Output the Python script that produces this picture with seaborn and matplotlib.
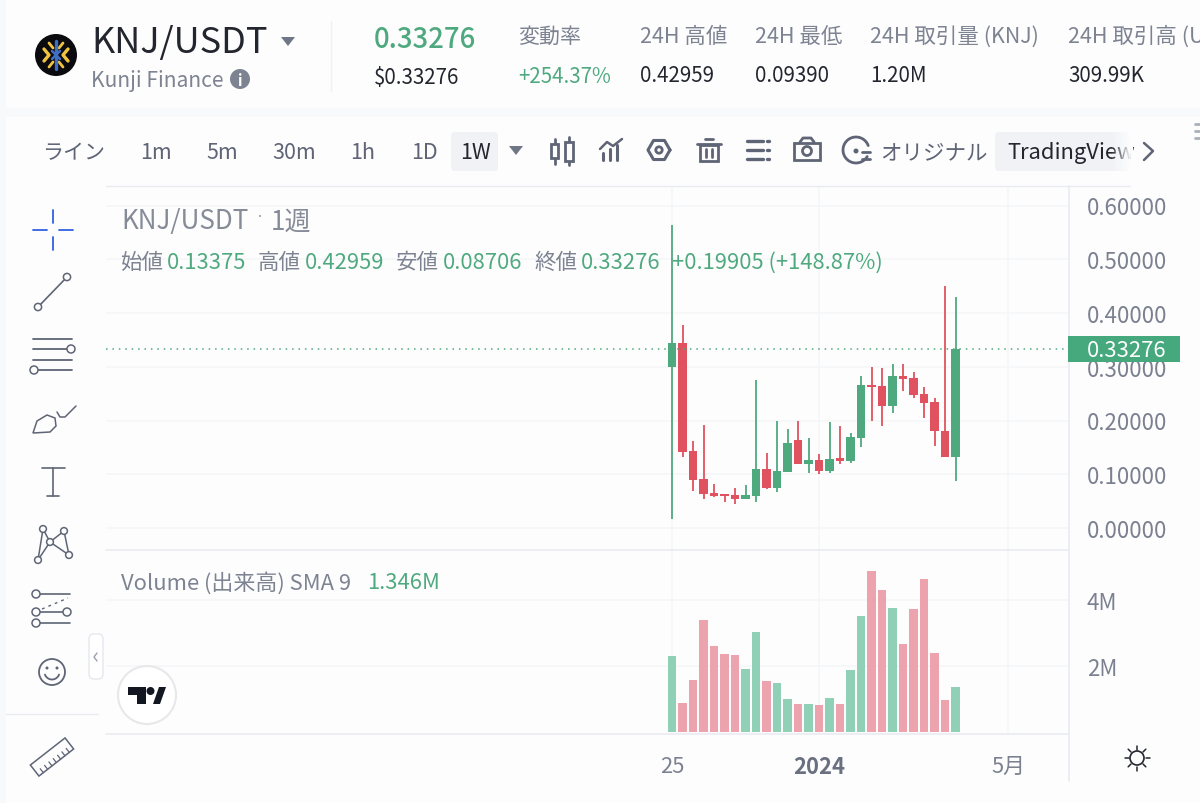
import matplotlib
matplotlib.use("Agg")
import matplotlib.pyplot as plt
from matplotlib.patches import Circle, Rectangle, FancyBboxPatch, Polygon
import numpy as np
import pandas as pd
import seaborn as sns

week = list(range(28))
opens = [.299,.344,.143,.092,.065,.063,.061,.054,.060,.109,.075,.104,.164,.119,.127,.106,.130,.124,.168,.266,.264,.227,.283,.279,.249,.234,.180,.132]
closes = [.344,.142,.090,.063,.059,.059,.054,.061,.109,.074,.106,.158,.119,.127,.106,.128,.124,.169,.266,.262,.227,.283,.277,.248,.233,.180,.132,.333]
highs = [.564,.378,.162,.192,.082,.063,.074,.080,.275,.140,.200,.185,.200,.167,.138,.198,.190,.177,.282,.300,.298,.305,.305,.291,.262,.242,.450,.429]
lows = [.017,.133,.068,.054,.057,.049,.045,.054,.049,.073,.067,.104,.119,.102,.100,.103,.119,.121,.151,.200,.189,.214,.255,.241,.205,.153,.132,.088]
volumes = [2.30,.87,1.59,3.39,2.60,2.35,2.33,1.90,3.02,1.54,1.47,1.00,.84,.84,.82,1.03,.84,1.88,3.51,4.88,4.30,3.77,2.66,3.72,4.65,2.38,.98,1.35]
volume_up = [True,False,False,False,False,False,False,True,True,False,True,True,False,True,False,True,False,True,True,False,False,True,False,False,False,False,False,True]
price_ticks = [0,.1,.2,.3,.4,.5,.6]
volume_ticks = [2,4]
last_price = 0.33276
x_tick_pos = [0, 14, 32]
x_tick_labels = ["25", "2024", "5月"]

GREEN, RED = "#4fa97f", "#e0525f"
VGREEN, VRED = "#8fd0b6", "#eda3ad"
GRAY, TICK, DARK, LINE, GRID = "#7d8391", "#7b8190", "#23262e", "#e9ebf2", "#f5f6f9"
ICON = "#5f6576"
BG = "#fdfdfe"

sns.set_theme(style="white")
plt.rcParams["font.family"] = ["Noto Sans CJK JP", "DejaVu Sans"]

W, H = 1200, 804
fig = plt.figure(figsize=(12, 8.04), dpi=100, facecolor=BG)

def pane(x0, y0, x1, y1):
    return fig.add_axes([x0 / W, 1 - y1 / H, (x1 - x0) / W, (y1 - y0) / H], facecolor=BG)

xlim = ((106 - 672) / 10.5, (1068.5 - 672) / 10.5)
ax = pane(106, 187, 1068.5, 551)
av = pane(106, 551, 1068.5, 734)

# candles
up = np.array(closes) >= np.array(opens)
colors = [GREEN if u else RED for u in up]
ax.vlines(week, lows, highs, colors=colors, linewidth=1.3, zorder=3)
bottoms = np.minimum(opens, closes)
ax.bar(week, np.abs(np.array(closes) - np.array(opens)), bottom=bottoms, width=0.8, color=colors, zorder=4, linewidth=0)
ax.axhline(last_price, color=GREEN, ls=(0, (1, 3.2)), lw=1.1, zorder=5)
ax.set_xlim(xlim)
ax.set_ylim((529 - 551) / 537.5, (529 - 187) / 537.5)
ax.set_yticks(price_ticks)
ax.set_yticklabels([f"{t:.5f}" for t in price_ticks])

# volume
df = pd.DataFrame({"week": week, "volume": volumes, "dir": ["up" if u else "down" for u in volume_up]})
sns.barplot(data=df, x="week", y="volume", hue="dir", dodge=False, native_scale=True, width=0.8, saturation=1,
            palette={"up": VGREEN, "down": VRED}, legend=False, ax=av, linewidth=0, zorder=3)
av.set_xlim(xlim)
av.set_ylim(-0.03, (733 - 551) / 33)
av.set_yticks(volume_ticks)
av.set_yticklabels([f"{t}M" for t in volume_ticks])
av.set_xlabel(""); av.set_ylabel("")
av.set_xticks(x_tick_pos)
av.set_xticklabels(x_tick_labels)
av.get_xticklabels()[1].set_fontweight("bold")
ax.set_xticks(x_tick_pos)

for a in (ax, av):
    a.grid(True, color=GRID, lw=1.2, zorder=0)
    a.set_axisbelow(True)
    a.yaxis.tick_right()
    a.tick_params(axis="y", length=0, pad=13.2, labelsize=16, labelcolor=TICK)
    for s in a.spines.values():
        s.set_visible(False)
ax.tick_params(axis="x", length=0, labelbottom=False)
av.tick_params(axis="x", length=0, pad=15.5, labelsize=15.8, labelcolor=TICK)
av.get_xticklabels()[1].set_color("#6a7080")

# overlay in pixel coordinates for the application chrome
o = fig.add_axes([0, 0, 1, 1], facecolor="none", zorder=20)
o.set_xlim(0, W); o.set_ylim(H, 0); o.axis("off")

def txt(x, y, s, px=20, color=GRAY, ha="left", **kw):
    return o.text(x, y, s, fontsize=px * 0.72, color=color, ha=ha, va="center", **kw)

def ln(xs, ys, c=ICON, lw=1.3, **kw):
    o.plot(xs, ys, color=c, lw=lw, solid_capstyle="round", **kw)

def ring(x, y, r=4, c=ICON, lw=1.1):
    o.add_patch(Circle((x, y), r, fc=BG, ec=c, lw=lw, zorder=6))

def rect(x0, y0, x1, y1, c):
    o.add_patch(Rectangle((x0, y0), x1 - x0, y1 - y0, fc=c, ec="none", zorder=0))

# chrome bands and borders
rect(0, 109, 1200, 118, "#f8f9fb")
rect(0, 0, 6, 804, "#f8f9fb")
ln([106, 1130], [187, 187], LINE, 1)
ln([106, 1069], [551, 551], LINE, 1.2)
ln([106, 1069], [734.5, 734.5], LINE, 1.2)
ln([1069, 1069], [187, 782], LINE, 1.2)
ln([331, 331], [22, 92], "#f0f1f5", 1)
ln([6, 98], [715, 715], LINE, 1)

# header
o.add_patch(Circle((56, 56), 21, fc="#0b0b0f", ec="none", zorder=3))
for sgn in (-1, 1):
    o.plot([56 + sgn * 12, 56 + sgn * 7, 56 + sgn * 12], [50, 56, 62], color="#efc23f", lw=2.4, zorder=4)
    o.plot([56 + sgn * 7, 56 + sgn * 3], [44, 49], color="#efc23f", lw=2, zorder=4)
    o.plot([56 + sgn * 7, 56 + sgn * 3], [68, 63], color="#efc23f", lw=2, zorder=4)
    o.plot([56, 56 + sgn * 4], [56, 52], color="#3f6fc4", lw=1.8, zorder=4)
    o.plot([56, 56 + sgn * 4], [56, 60], color="#3f6fc4", lw=1.8, zorder=4)
o.plot([56, 56], [42, 70], color="#3f6fc4", lw=2.4, zorder=4)
txt(91, 43, "KNJ/USDT", 36, DARK)
o.add_patch(Polygon([[281, 38], [295, 38], [288, 47]], fc="#6f7686", ec="none"))
txt(91, 81, "Kunji Finance", 21, GRAY)
o.add_patch(Circle((240, 80), 10, fc="#7d8391", ec="none"))
txt(240, 81, "i", 15, "white", ha="center", fontweight="bold", zorder=5)
txt(374, 39, "0.33276", 27.5, GREEN, fontweight="medium")
txt(374, 78, "$0.33276", 20.5, DARK)
txt(518, 37, "変動率", 21)
txt(518, 77, "+254.37%", 20.5, GREEN)
for x, a, b in [(640, "24H 高値", "0.42959"), (755, "24H 最低", "0.09390"),
                (870, "24H 取引量 (KNJ)", "1.20M"), (1068, "24H 取引高 (USDT)", "309.99K")]:
    txt(x, 37, a, 21.5)
    txt(x, 76, b, 20.5, DARK)

# toolbar
txt(42, 153, "ライン", 21, ICON)
for x, s in [(156, "1m"), (222, "5m"), (294, "30m"), (363, "1h"), (424, "1D")]:
    txt(x, 153, s, 21.5, ICON, ha="center")
o.add_patch(FancyBboxPatch((451, 133), 47, 39, boxstyle="round,pad=0,rounding_size=4", fc="#f1f2f6", ec="none"))
txt(475, 153, "1W", 21.5, DARK, ha="center")
o.add_patch(Polygon([[509, 147], [523, 147], [516, 156]], fc="#6f7686", ec="none"))
# candles icon
ln([555, 555], [140, 165], lw=2); ln([569, 569], [138, 166], lw=2)
o.add_patch(Rectangle((551, 145), 7, 14, fc=BG, ec=ICON, lw=2, zorder=3))
o.add_patch(Rectangle((565, 143), 8, 19, fc=BG, ec=ICON, lw=2, zorder=3))
# indicator icon
for x, y0 in [(603, 154), (610, 150), (617, 146)]:
    ln([x, x], [y0, 161], lw=2.2)
ln([600, 607, 613, 622], [150, 143, 147, 140], lw=1.8)
# hex icon
th = np.radians(np.arange(0, 361, 60))
o.plot(659 + 11 * np.cos(th), 151 + 11 * np.sin(th), color=ICON, lw=2.2)
o.add_patch(Circle((659, 151), 3.2, fc=BG, ec=ICON, lw=2))
# trash
o.add_patch(Rectangle((700, 146), 18, 16, fc="none", ec=ICON, lw=2))
ln([697, 721], [145, 145], lw=2); ln([705, 713], [140, 140], lw=2)
ln([706, 706], [150, 158], lw=2); ln([712, 712], [150, 158], lw=2)
# list
for y in (142, 151, 160):
    ln([747, 763], [y, y], lw=2.4); ln([767, 769], [y, y], lw=2.4)
# camera
o.add_patch(Rectangle((794, 144), 26, 17, fc="none", ec=ICON, lw=2))
ln([800, 803, 811, 814], [143, 139, 139, 143], lw=2)
o.add_patch(Circle((807, 152), 4.5, fc=BG, ec=ICON, lw=2))
# template icon
a_ = np.radians(np.linspace(20, 330, 40))
o.plot(856 + 13 * np.cos(a_), 151 - 13 * np.sin(a_), color=ICON, lw=2)
o.add_patch(Circle((856, 152), 2.5, fc=ICON, ec="none"))
ln([862, 870], [153, 153], lw=2); ln([862, 870], [160, 160], lw=2)
txt(880, 153, "オリジナル", 21.5, ICON)
o.add_patch(FancyBboxPatch((995, 133), 135, 39, boxstyle="round,pad=0,rounding_size=4", fc="#f1f2f6", ec="none"))
t = txt(1007, 153, "TradingView", 22, DARK)
t.set_clip_path(Rectangle((995, 130), 137, 44, transform=o.transData))
for i in range(12):
    o.add_patch(Rectangle((1112 + i * 1.7, 133), 1.8, 39, fc=BG, ec="none", alpha=(i + 1) / 12, zorder=5))
ln([1144, 1153, 1144], [144, 152, 161], lw=1.8)
for y in (125, 132, 139):
    ln([1195, 1200], [y, y], "#aab0bc", 2)

# chart legends
txt(121, 222, "KNJ/USDT", 26, "#868b98")
txt(256, 217, "·", 14, "#868b98")
txt(271, 222, "1週", 26, "#868b98")
for x, a, xv, v in [(120, "始値", 167, "0.13375"), (258, "高値", 305, "0.42959"),
                    (396, "安値", 443, "0.08706"), (534, "終値", 581, "0.33276")]:
    txt(x, 263, a, 21.5)
    txt(xv, 263, v, 22, GREEN)
txt(672, 263, "+0.19905 (+148.87%)", 22, GREEN)
txt(121, 583, "Volume (出来高) SMA 9", 22)
txt(367, 583, "1.346M", 22, GREEN)
o.add_patch(Rectangle((1068, 337), 112, 26, fc="#46a87d", ec="none", zorder=5))
txt(1087, 351, "0.33276", 22, "white", zorder=6)

# left toolbar icons
B = "#2f63e0"
ln([33, 47], [231, 231], B); ln([59, 73], [231, 231], B)
ln([53, 53], [211, 224], B); ln([53, 53], [238, 251], B)
ln([38, 67], [308, 278], lw=1.2); ring(38, 308, 3.6); ring(67, 278, 3.6)
for y in (340, 350, 361, 371):
    ln([33, 72], [y, y], lw=1.3)
ring(71, 350); ring(34, 371)
# brush
o.add_patch(Polygon([[33, 434], [37, 422], [47, 416], [55, 419], [56, 427], [50, 433]], fc="none", ec=ICON, lw=1.1))
o.plot([57, 60, 65, 76], [413, 418, 418, 407], color=ICON, lw=1.1)
# T
ln([42, 65], [469, 469], lw=1.2); ln([53, 53], [469, 497], lw=1.2); ln([47, 59], [497, 497], lw=1.2)
# pattern
px_ = [38, 43, 50, 64, 69]; py_ = [561, 530, 543, 532, 556]
ln(px_, py_, lw=1.1); ln([38, 50, 69], [561, 543, 556], lw=1.1)
for a, b in zip(px_, py_):
    ring(a, b, 3.4)
# fib
ln([33, 70], [595, 595], lw=1.2); ln([33, 70], [613, 613], lw=1.2); ln([33, 70], [624, 624], lw=1.2)
o.plot([42, 68], [610, 599], color=ICON, lw=1, ls=(0, (2, 3)))
ring(36, 595); ring(36, 613); ring(67, 613); ring(36, 624)
# smile
o.add_patch(Circle((52, 673), 13, fc="none", ec=ICON, lw=1.3))
o.add_patch(Circle((47, 669), 1.5, fc=ICON, ec="none")); o.add_patch(Circle((57, 669), 1.5, fc=ICON, ec="none"))
sm = np.radians(np.linspace(200, 340, 20))
o.plot(52 + 7.5 * np.cos(sm), 673 - 7.5 * np.sin(sm), color=ICON, lw=1.3)
# ruler
cx, cy = 52, 758
d = np.array([np.cos(np.radians(-38)), np.sin(np.radians(-38))]); n = np.array([-d[1], d[0]])
pts = [np.array([cx, cy]) + s * 22 * d + t_ * 7 * n for s, t_ in [(-1, -1), (1, -1), (1, 1), (-1, 1)]]
o.add_patch(Polygon(pts, fc="none", ec=ICON, lw=1.1))
for s in np.linspace(-.75, .75, 7):
    p0 = np.array([cx, cy]) + s * 22 * d + 1 * 7 * n
    p1 = p0 - 5 * n
    ln([p0[0], p1[0]], [p0[1], p1[1]], lw=.9)
# collapse handle
o.add_patch(FancyBboxPatch((89, 635), 14, 45, boxstyle="round,pad=0,rounding_size=5", fc="white", ec="#e6e8ee", lw=1))
ln([97, 94, 97], [654, 658, 662], "#9aa0ad", 1)
# tv logo
o.add_patch(Circle((147, 696), 29, fc="white", ec="#e8e8ea", lw=1.5))
o.add_patch(Polygon([[128, 688], [146, 688], [146, 705], [137, 705], [137, 696], [128, 696]], fc="#131722", ec="none"))
o.add_patch(Polygon([[153, 705], [159, 688], [166, 688], [160, 705]], fc="#131722", ec="none"))
o.add_patch(Circle((150.5, 692), 4, fc="#131722", ec="none"))
# sun
o.add_patch(Circle((1137, 759), 7, fc="none", ec="#23262e", lw=1.2))
for ang in np.radians(np.arange(0, 360, 45)):
    ln([1137 + 8.5 * np.cos(ang), 1137 + 12.5 * np.cos(ang)], [759 + 8.5 * np.sin(ang), 759 + 12.5 * np.sin(ang)], "#23262e", 1.1)

fig.savefig("out.png", dpi=100, facecolor=BG)
